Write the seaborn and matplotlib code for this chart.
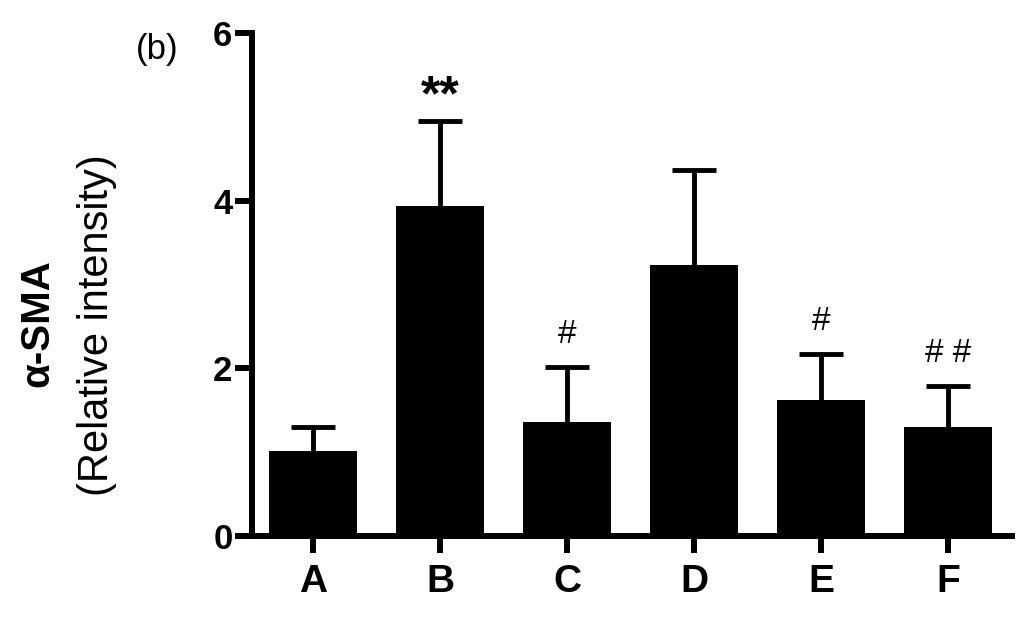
import numpy as np
import pandas as pd
import matplotlib
matplotlib.use("Agg")
import matplotlib.pyplot as plt
import seaborn as sns

# values
groups = ["A", "B", "C", "D", "E", "F"]
means = [1.01, 3.93, 1.36, 3.23, 1.62, 1.30]
sd = [0.29, 1.02, 0.66, 1.13, 0.55, 0.49]
marks = ["", "**", "#", "", "#", "# #"]
yticks = [0, 2, 4, 6]

sns.set_style("ticks")
plt.rcParams['font.family'] = ['Liberation Sans', 'DejaVu Sans']
plt.rcParams.update({"text.color": "black", "axes.edgecolor": "black",
                     "xtick.color": "black", "ytick.color": "black",
                     "axes.labelcolor": "black"})

df = pd.DataFrame({"group": groups, "value": means})

fig = plt.figure(figsize=(10.24, 6.21), dpi=100)
ax = fig.add_axes([0.246, 0.137, 0.742, 0.81])

sns.barplot(data=df, x="group", y="value", color="black", edgecolor="black",
            linewidth=0, width=0.69, errorbar=None, ax=ax, saturation=1)
x = np.arange(len(groups))
eb = ax.errorbar(x, means, yerr=[np.zeros(len(sd)), sd], fmt="none", ecolor="black",
                 elinewidth=3.5, capsize=16, capthick=3.5, zorder=1)
# hide the lower caps that sit on the bar tops
eb[1][0].set_visible(False)

for xi, m, s, t in zip(x, means, sd, marks):
    if not t:
        continue
    if t == "**":
        ax.annotate(t, (xi, m + s), xytext=(0, 8), textcoords="offset points",
                    ha="center", va="baseline", fontsize=36, fontweight="bold")
    else:
        ax.annotate(t, (xi, m + s), xytext=(0, 17), textcoords="offset points",
                    ha="center", va="baseline", fontsize=24)

ax.set_ylim(0, 6)
ax.set_xlim(-0.48, 5.5)
ax.set_yticks(yticks)
ax.set_yticklabels([str(v) for v in yticks], fontsize=25, fontweight="bold")
ax.set_xticks(x)
ax.set_xticklabels(groups, fontsize=28, fontweight="bold")
ax.set_xlabel("")
ax.set_ylabel("")
sns.despine(ax=ax)
for sp in ["left", "bottom"]:
    ax.spines[sp].set_linewidth(4.3)
ax.tick_params(axis="both", width=4.3, length=12, color="black")
ax.tick_params(axis="y", pad=2)
ax.tick_params(axis="x", pad=8)

fig.text(37 / 1024, 1 - 323 / 621, "α-SMA", rotation=90, ha="center", va="center",
         fontsize=29, fontweight="bold")
fig.text(97 / 1024, 1 - 325 / 621, "(Relative intensity)", rotation=90,
         ha="center", va="center", fontsize=30)
fig.text(157 / 1024, 1 - 50 / 621, "(b)", ha="center", va="center", fontsize=25)

fig.savefig("out.png", dpi=100, facecolor="white")
